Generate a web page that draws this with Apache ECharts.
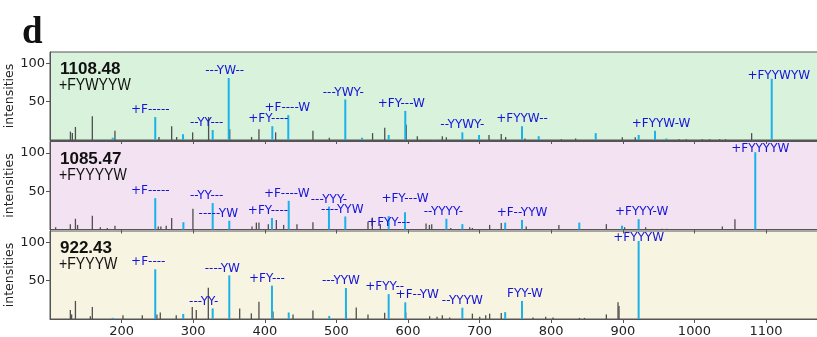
<!DOCTYPE html>
<html>
<head>
<meta charset="utf-8">
<script src="https://cdn.jsdelivr.net/npm/echarts@6/dist/echarts.min.js"></script>
<style>
html,body{margin:0;padding:0;background:#fff}
#main{width:817px;height:337px}
</style>
</head>
<body>
<div id="main"></div>
<script>
// x-axis ticks (m/z)
var xTicks=[200,300,400,500,600,700,800,900,1000,1100];
// panel 1 : 1108.48 +FYWYYW
var p1Gray=[[129,11],[131.7,9],[136,17],[159.6,31],[191.2,12],[252.7,4],[270.4,18],[277.4,4],[299.7,10],[322,30],[351.5,14],[382,4],[392.3,14],[415.6,10],[467.7,12],[490.6,3],[551,9],[568,16],[598,20],[613.5,5],[648.4,5],[654,3.5],[713.6,6.5],[730.7,8],[736.9,4],[763.9,2],[814.6,1],[834.6,2],[899.8,3.5],[917.9,3.5],[978.9,1],[989,1],[1011.5,1],[1021.8,1],[1035.7,1],[1044,1],[1080.4,9]];
var p1Ions=[[187.6,3],[247,30],[285.8,7.5],[327.2,13],[349.6,81],[410.5,18],[432.8,32.5],[512.4,53],[535.8,3],[573,6.5],[596.2,38],[675.9,10],[699.2,6.5],[759.2,18],[782.5,5],[862.2,9],[922.2,6.5],[945,12],[960.8,2],[1108,80]];
var p1Labels=['','+F-----','','--YY---','---YW--','+FY----','+F----W','---YWY-','','','+FY---W','--YYWY-','','+FYYW--','','','','+FYYW-W','','+FYYWYW'];
// panel 2 : 1085.47 +FYYYYW
var p2Gray=[[108.4,3],[128.9,7],[136,14],[139,6],[159.6,18],[170.8,3],[180.5,2],[191.2,5],[251.7,4],[255.3,4],[262.8,5],[270.4,15],[300.1,27],[382.6,4],[388.7,9],[392.3,9],[405.4,7],[416.6,12.5],[426.8,6],[445.4,7],[467.7,9.5],[544.6,10],[550.7,15.5],[561.9,7],[625.7,8],[630.4,6],[633.6,7],[660.2,2],[686.6,3],[690.4,2],[714.5,6],[730.7,8.5],[765.6,4],[811.2,6],[877.5,7],[903,3],[932.4,3],[955,1],[962,1],[1039.5,4],[1057.1,13.5]];
var p2Ions=[[247,41],[286.3,9.5],[327.2,34.5],[350.4,11.5],[410,15],[433.4,37.5],[489.6,30],[512.4,17],[573,17.5],[595.8,22.5],[653.6,14],[675.9,7],[735.7,9],[759.2,12.5],[839.2,9],[898.9,5],[922.1,13.5],[1085,101]];
var p2Labels=['+F-----','','--YY---','-----YW','+FY----','+F----W','---YYY-','----YYW','+FYY---','+FY---W','--YYYY-','','','+F--YYW','','','+FYYY-W','+FYYYYW'];
// panel 3 : 922.43 +FYYYW
var p3Gray=[[128.9,11.6],[130.7,6],[136,23.6],[156.8,3.5],[159.6,15.8],[202.4,5],[229.4,5],[249.8,6],[254.5,8.5],[276.8,5],[299.2,15.8],[304.8,11.6],[321.6,41],[365.4,13.8],[381.7,7.4],[392.3,22.7],[411.9,9.7],[439.9,6],[467.7,11],[514.2,9.7],[528.2,15],[544.6,6],[567.9,8.2],[597.3,8.5],[630.7,3.6],[641,3],[648.4,5],[658.7,2],[690.4,7],[700.6,3],[709,5],[714.5,7],[730.7,8],[775,2],[792.8,3],[803,2],[840,1.5],[847,1.5],[877.5,6],[893.8,22],[895.2,17]];
var p3Ions=[[187.5,1.5],[247,65],[286.1,6.5],[327.2,13.8],[350.4,57],[410,43.6],[433.4,8.5],[490,4],[513.3,40.5],[573,32.5],[596.2,21.8],[675.9,14.7],[735.7,9],[759.2,23.6],[922.1,102]];
var p3Labels=['','+F----','','---YY-','----YW','+FY---','','','---YYW','+FYY--','+F--YW','--YYYW','','FYY-W','+FYYYW'];

var masses=['1108.48','1085.47','922.43'];
var formulas=['+FYWYYW','+FYYYYW','+FYYYW'];

// label nudges (px) so text sits like the picture
var shifts=[
  {'+F-----':[-5,0],'--YY---':[-6,0],'---YW--':[-4,0],'+FY----':[-4,0],'+F----W':[-1,0],'---YWY-':[-2,0],'+FY---W':[-4,0],'+FYYW-W':[6,0],'+FYYWYW':[7,4]},
  {'+F-----':[-5,0],'--YY---':[-6,0],'-----YW':[-11,0],'+FY----':[-4,0],'+F----W':[-2,0],'----YYW':[-3,0],'+FYY---':[0,14],'+FY---W':[0,-6],'--YYYY-':[-3,0],'+FYYY-W':[3,0],'+FYYYYW':[5,4]},
  {'+F----':[-7,0],'---YY-':[-9,0],'----YW':[-7,0],'+FY---':[-5,0],'---YYW':[-5,0],'+FYY--':[-4,0],'+F--YW':[12,0],'FYY-W':[3,0],'+FYYYW':[0,4]}
];
var bgs=['#d8f2dc','#f2e2f2','#f8f4e2'];
var tops=[52,141.5,231];
var grays=[p1Gray,p2Gray,p3Gray],ions=[p1Ions,p2Ions,p3Ions],labels=[p1Labels,p2Labels,p3Labels];

var grids=[],xAxes=[],yAxes=[],series=[],graphic=[];
graphic.push({type:'text',x:22,y:15,style:{text:'d',font:'bold 37px "Liberation Serif"',fill:'#111'}});

for(var i=0;i<3;i++){
  grids.push({left:50,right:-2,top:tops[i],height:88,containLabel:false,outerBoundsMode:'none',
    show:true,backgroundColor:bgs[i],borderColor:'#555',borderWidth:1});
  xAxes.push({
    type:'value',gridIndex:i,min:100,max:1174,interval:100,
    axisLine:{lineStyle:{color:'#555'}},
    axisTick:{length:4,lineStyle:{color:'#555'}},
    axisLabel:{show:i==2,showMinLabel:false,showMaxLabel:false,color:'#222',fontSize:13,fontFamily:'DejaVu Sans',margin:6,
      formatter:function(v){return xTicks.indexOf(v)>=0?String(v):''}},
    splitLine:{show:false}
  });
  yAxes.push({
    type:'value',gridIndex:i,min:0,max:115,interval:50,
    name:'intensities',nameLocation:'middle',nameGap:34,nameMoveOverlap:false,
    nameTextStyle:{color:'#222',fontSize:12.5,fontFamily:'DejaVu Sans'},
    axisLine:{show:true,lineStyle:{color:'#555'}},
    axisTick:{show:true,length:4,lineStyle:{color:'#555'}},
    axisLabel:{showMinLabel:false,showMaxLabel:false,color:'#222',fontSize:13,fontFamily:'DejaVu Sans',margin:5},
    splitLine:{show:false}
  });
  series.push({
    type:'bar',xAxisIndex:i,yAxisIndex:i,barWidth:1.3,barGap:'-100%',silent:true,
    itemStyle:{color:'#4f4f4f'},data:grays[i]
  });
  var sh=shifts[i];
  series.push({
    type:'bar',xAxisIndex:i,yAxisIndex:i,barWidth:2,barGap:'-100%',silent:true,
    itemStyle:{color:'#1ab2e8'},
    data:ions[i].map(function(d,j){
      var t=labels[i][j];
      return {value:d,label:{show:t!=='',formatter:t,position:'top',distance:1,offset:sh[t]||[0,0],
        color:'#1414d8',fontSize:12,fontFamily:'DejaVu Sans'}};
    })
  });
  graphic.push({type:'text',x:60,y:tops[i]+9,style:{text:masses[i],font:'bold 17px "Liberation Sans"',fill:'#111'}});
  graphic.push({type:'text',x:59,y:tops[i]+25,scaleX:0.83,style:{text:formulas[i],font:'17px "Liberation Sans"',fill:'#111'}});
}

var myChart=echarts.init(document.getElementById('main'));
myChart.setOption({animation:false,grid:grids,xAxis:xAxes,yAxis:yAxes,series:series,graphic:graphic});
</script>
</body>
</html>
